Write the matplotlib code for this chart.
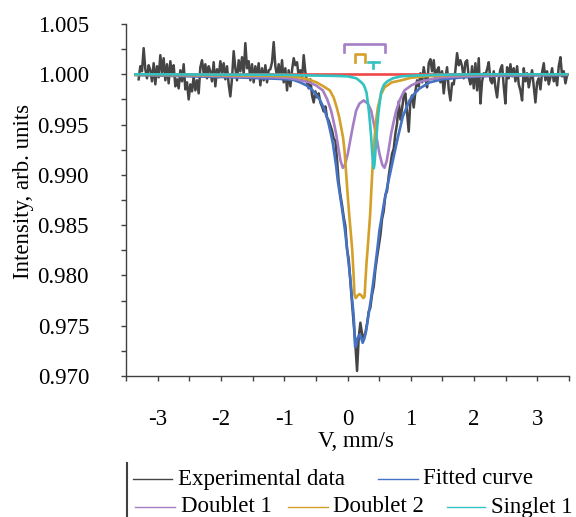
import numpy as np
import matplotlib
matplotlib.use("Agg")
import matplotlib.pyplot as plt
from matplotlib.lines import Line2D
from matplotlib.ticker import MultipleLocator, FormatStrFormatter

plt.rcParams['font.family'] = ['Liberation Serif', 'DejaVu Serif']
plt.rcParams['font.size'] = 16.5
plt.rcParams['axes.unicode_minus'] = False

# experimental spectrum (258 channels, -3.30 .. 3.47 mm/s)
V_START, V_END = -3.30, 3.47
exp_i = [
    0.9995, 1.0008, 1.0003, 1.0026, 1.0005, 0.9996, 1.0009, 1.0004, 0.9993, 1.0011,
    0.9990, 1.0008, 0.9997, 1.0019, 1.0002, 1.0016, 0.9994, 1.0010, 0.9991, 1.0013,
    0.9999, 1.0009, 0.9988, 0.9995, 0.9986, 1.0004, 0.9993, 1.0010, 0.9985, 0.9992,
    0.9975, 0.9990, 0.9983, 0.9998, 0.9984, 0.9994, 0.9981, 1.0007, 1.0014, 1.0001,
    1.0010, 0.9996, 1.0008, 1.0003, 0.9993, 1.0012, 0.9988, 1.0005, 0.9997, 1.0013,
    1.0002, 1.0011, 0.9995, 1.0008, 0.9990, 0.9978, 0.9996, 1.0023, 1.0006, 0.9994,
    1.0014, 1.0003, 1.0017, 1.0000, 1.0031, 1.0006, 1.0013, 0.9994, 1.0010, 0.9992,
    1.0008, 0.9997, 1.0011, 0.9989, 1.0006, 0.9994, 1.0009, 0.9992, 1.0004,
    1.0005, 1.0012, 1.0032, 1.0008, 0.9998, 1.0010, 0.9996, 1.0014, 0.9992, 1.0006,
    0.9984, 1.0004, 0.9988,
    1.0004, 1.0016, 1.0009, 1.0012, 0.9998, 1.0004, 0.9995, 1.0019, 1.0002, 0.9992,
    0.9986, 0.9995, 0.9979, 0.9972, 0.9983, 0.9977, 0.9981, 0.9972, 0.9968, 0.9963,
    0.9968, 0.9957, 0.9954, 0.9949, 0.9944, 0.9936, 0.9934, 0.9915, 0.9893,
    0.9880, 0.9870, 0.9858, 0.9849, 0.9826, 0.9816, 0.9794, 0.9772, 0.9752, 0.9731,
    0.9705, 0.9738, 0.9753, 0.9742, 0.9737, 0.9743, 0.9752, 0.9764, 0.9768, 0.9781,
    0.9789, 0.9806, 0.9818, 0.9829, 0.9840, 0.9856, 0.9864, 0.9880, 0.9884, 0.9899,
    0.9910, 0.9921, 0.9926, 0.9941, 0.9951, 0.9973, 0.9955, 0.9966, 0.9978, 0.9981,
    0.9962, 0.9943, 0.9974, 0.9979, 0.9967, 0.9983, 0.9994, 0.9988, 1.0001, 0.9992,
    1.0007, 0.9996, 0.9987, 1.0011, 1.0015, 1.0003, 1.0014, 0.9995, 1.0004, 1.0007,
    0.9992, 1.0003, 0.9981, 0.9996, 1.0007, 0.9985, 0.9974, 0.9991, 0.9990, 1.0004,
    1.0021, 1.0009, 1.0014, 1.0008, 0.9996, 1.0012, 1.0014, 0.9997, 0.9990, 1.0008,
    0.9986, 1.0011, 0.9984, 1.0016, 0.9971, 0.9993, 1.0001, 0.9999, 1.0005, 1.0012,
    0.9994, 0.9991, 1.0003, 0.9987, 0.9977, 0.9995, 1.0005, 1.0009, 0.9988, 0.9971,
    1.0007, 0.9996, 1.0010, 0.9998, 1.0006, 0.9993, 1.0008, 0.9990, 0.9984, 0.9974,
    1.0006, 0.9993, 1.0001, 0.9987, 0.9996, 1.0004, 0.9988, 0.9972, 0.9992, 0.9996,
    0.9985, 1.0002, 1.0011, 0.9994, 1.0003, 0.9990, 0.9997, 1.0006, 0.9993, 1.0000,
    0.9989, 1.0008, 1.0017, 0.9998, 1.0003, 0.9991, 0.9999,
]
exp_v = np.linspace(V_START, V_END, len(exp_i))

# fitted envelope
fit_v = [-3.35, -2.5, -1.8, -1.34, -1.1, -0.86, -0.75, -0.65, -0.55, -0.44,
         -0.37, -0.31, -0.27, -0.23, -0.18, -0.153, -0.105, -0.074, -0.04, -0.01,
         0.02, 0.047, 0.07, 0.095, 0.11, 0.12, 0.13, 0.16, 0.19, 0.215,
         0.24, 0.265, 0.295, 0.335, 0.374, 0.41, 0.442, 0.475, 0.505, 0.545,
         0.585, 0.648, 0.716, 0.795, 0.874, 0.98, 1.06, 1.14, 1.3, 1.5,
         1.82, 2.3, 3.47]
fit_i = [0.99993, 0.9998, 0.9997, 0.9996, 0.99955, 0.99945, 0.9992, 0.9989, 0.9984, 0.9975,
         0.9966, 0.9954, 0.9943, 0.9931, 0.9909, 0.9894, 0.9874, 0.9861, 0.9845, 0.9828,
         0.9811, 0.9795, 0.9778, 0.9762, 0.9745, 0.9729, 0.9730, 0.9738, 0.9741, 0.9738,
         0.9733, 0.9737, 0.9745, 0.9762, 0.9778, 0.9795, 0.9811, 0.9828, 0.9845, 0.9860,
         0.9875, 0.9894, 0.9914, 0.9937, 0.9958, 0.9974, 0.9981, 0.9986, 0.9992, 0.9995,
         0.9997, 0.99985, 0.99993]

# doublet 1
d1_v = [-3.35, -2.5, -1.6, -1.2, -0.97, -0.8, -0.6, -0.5, -0.39, -0.32,
        -0.26, -0.22, -0.18, -0.14, -0.11, -0.074, -0.04, 0.005, 0.045, 0.084,
        0.137, 0.19, 0.255, 0.32, 0.373, 0.426, 0.465, 0.505, 0.55, 0.585,
        0.62, 0.65, 0.69, 0.73, 0.77, 0.83, 0.90, 1.01, 1.11, 1.31,
        1.48, 1.8, 2.4, 3.47]
d1_i = [0.99995, 0.9999, 0.99975, 0.9997, 0.99965, 0.9995, 0.9992, 0.9989, 0.9984, 0.9975,
        0.9964, 0.9953, 0.9941, 0.9925, 0.9914, 0.9907, 0.9910, 0.9921, 0.9935, 0.9948,
        0.9964, 0.9971, 0.9974, 0.9971, 0.9964, 0.9948, 0.9935, 0.9921, 0.9910, 0.9907,
        0.9914, 0.9925, 0.9941, 0.9953, 0.9964, 0.9975, 0.9984, 0.9989, 0.9992, 0.9995,
        0.9997, 0.9998, 0.9999, 0.99995]

# doublet 2
d2_v = [-3.35, -2.0, -1.2, -0.9, -0.76, -0.6, -0.49, -0.38, -0.28, -0.22,
        -0.17, -0.13, -0.1, -0.07, -0.047, -0.02, 0.005, 0.03, 0.055, 0.074,
        0.09, 0.1, 0.11, 0.13, 0.16, 0.19, 0.22, 0.25, 0.27, 0.284,
        0.30, 0.32, 0.34, 0.358, 0.384, 0.40, 0.427, 0.45, 0.48, 0.53,
        0.585, 0.7, 0.85, 1.0, 1.22, 1.6, 2.5, 3.47]
d2_i = [0.99995, 0.9999, 0.99985, 0.9998, 0.9997, 0.99945, 0.9992, 0.9988, 0.9984, 0.9977,
        0.9967, 0.9957, 0.9947, 0.9937, 0.9924, 0.9900, 0.9878, 0.9858, 0.9840, 0.9826,
        0.9808, 0.9795, 0.9781, 0.97775, 0.9780, 0.97815, 0.9780, 0.97775, 0.9779, 0.9795,
        0.9812, 0.9828, 0.9845, 0.9861, 0.9894, 0.9912, 0.9936, 0.9953, 0.9967, 0.9980,
        0.9987, 0.9992, 0.9994, 0.99965, 0.9998, 0.99992, 0.99998, 1.0]

# singlet 1
s1_v = [-3.35, -1.0, -0.6, -0.2, 0.0, 0.14, 0.2, 0.25, 0.27, 0.30,
        0.337, 0.355, 0.374, 0.39, 0.405, 0.415, 0.425, 0.44, 0.456, 0.475,
        0.493, 0.53, 0.56, 0.58, 0.63, 0.716, 0.85, 1.1, 1.4, 2.0,
        3.47]
s1_i = [1.0, 0.99995, 0.99988, 0.99984, 0.9998, 0.9996, 0.9993, 0.9990, 0.99874, 0.9982,
        0.9964, 0.9952, 0.99375, 0.9922, 0.9910, 0.99065, 0.9910, 0.9922, 0.99375, 0.9952,
        0.9964, 0.9982, 0.99874, 0.9990, 0.9993, 0.9996, 0.9998, 0.99988, 0.99995, 1.0,
        1.0]

base_v = [V_START, V_END]
base_i = [1.0, 1.0]

# line positions marked at the top
d1_pos = [-0.06, 0.585]
d2_pos = [0.125, 0.27]
s1_pos = 0.41

C_EXP = '#454545'
C_FIT = '#4472c4'
C_D1 = '#a47fc6'
C_D2 = '#d4a02a'
C_S1 = '#33c2c2'
C_BASE = '#f04848'
C_AX = '#404040'
LW = 1.9

W, H = 576, 517
fig = plt.figure(figsize=(W / 100, H / 100), dpi=100)
ax = fig.add_axes([126 / W, 1 - 376 / H, (569 - 126) / W, (376 - 24) / H])

ax.plot(exp_v, exp_i, color=C_EXP, lw=1.8, zorder=2)
ax.plot(fit_v, fit_i, color=C_FIT, lw=LW, zorder=3)
ax.plot(d1_v, d1_i, color=C_D1, lw=LW, zorder=4)
ax.plot(d2_v, d2_i, color=C_D2, lw=LW, zorder=5)
ax.plot(base_v, base_i, color=C_BASE, lw=LW, zorder=6)
ax.plot(s1_v, s1_i, color=C_S1, lw=LW, zorder=7)

# brackets
ax.plot([d1_pos[0], d1_pos[0], d1_pos[1], d1_pos[1]], [1.0022, 1.0030, 1.0030, 1.0022],
        color=C_D1, lw=LW)
ax.plot([d2_pos[0], d2_pos[0], d2_pos[1], d2_pos[1]], [1.0012, 1.0020, 1.0020, 1.0012],
        color=C_D2, lw=LW)
ax.plot([s1_pos - 0.085, s1_pos + 0.08], [1.0012, 1.0012], color=C_S1, lw=LW)
ax.plot([s1_pos, s1_pos], [1.0012, 1.0006], color=C_S1, lw=LW)

ax.set_xlim(-3.5, 3.5)
ax.set_ylim(0.970, 1.005)
ax.xaxis.set_major_locator(MultipleLocator(1))
ax.xaxis.set_minor_locator(MultipleLocator(0.5))
ax.xaxis.set_major_formatter(FormatStrFormatter('%d'))
ax.yaxis.set_major_locator(MultipleLocator(0.005))
ax.yaxis.set_minor_locator(MultipleLocator(0.0025))
ax.yaxis.set_major_formatter(FormatStrFormatter('%.3f'))

for s in ['top', 'right']:
    ax.spines[s].set_visible(False)
for s in ['left', 'bottom']:
    ax.spines[s].set_color(C_AX)
    ax.spines[s].set_linewidth(1.0)

ax.tick_params(which='both', direction='out', length=3.6, width=1.0, color=C_AX)
ax.tick_params(axis='y', which='major', pad=23)
ax.tick_params(axis='x', which='major', pad=20)

ax.set_xlabel('V, mm/s')
ax.set_ylabel('Intensity, arb. units')
ax.xaxis.set_label_coords((356 - 126) / 443, (376 - 431) / 352)
ax.yaxis.set_label_coords((34 - 126) / 443, (376 - 191) / 352)

# legend (bottom, clipped by the figure edge)
fig.add_artist(Line2D([127 / W, 127 / W], [1 - 463 / H, 0], color=C_AX, lw=1.5,
                      transform=fig.transFigure))
entries = [
    ('Experimental data', C_EXP, 133, 172, 178, 479),
    ('Fitted curve', C_FIT, 378, 418, 423, 479),
    ('Doublet 1', C_D1, 135, 175, 181, 507),
    ('Doublet 2', C_D2, 288, 328, 333, 507),
    ('Singlet 1', C_S1, 447, 485, 491, 507),
]
for label, col, x0, x1, xt, y in entries:
    fig.add_artist(Line2D([x0 / W, x1 / W], [1 - y / H, 1 - y / H], color=col, lw=1.0,
                          transform=fig.transFigure))
    fig.text(xt / W, 1 - y / H, label, ha='left', va='center')

fig.savefig('out.png', dpi=100)
